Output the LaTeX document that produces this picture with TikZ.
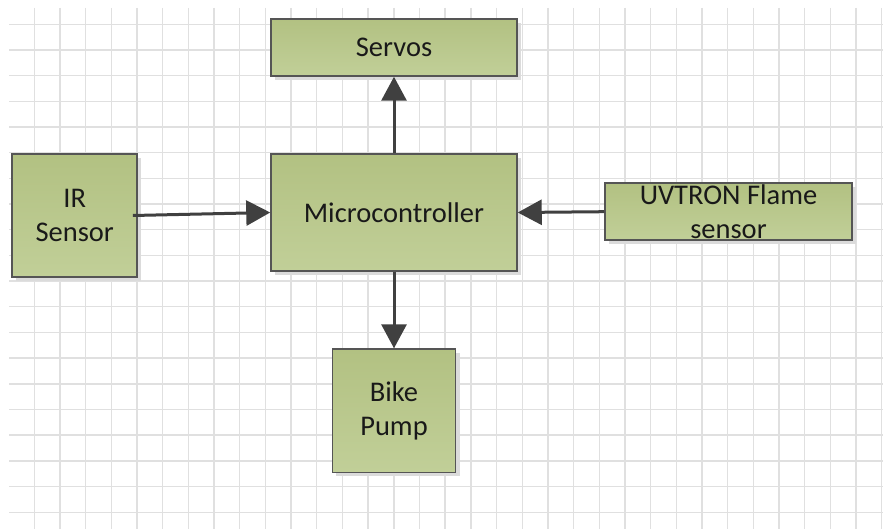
\documentclass[tikz,border=0pt]{standalone}
\usepackage{fontspec}
\setmainfont{Carlito}
\usetikzlibrary{arrows.meta,shadows}
\definecolor{gridc}{RGB}{224,224,224}
\definecolor{boxtop}{RGB}{178,193,130}
\definecolor{boxbot}{RGB}{193,207,152}
\definecolor{boxline}{RGB}{85,85,85}
\definecolor{arrowc}{RGB}{64,64,64}
\definecolor{txt}{RGB}{25,25,25}
\tikzset{
  blockbox/.style={draw=boxline, line width=1.5pt, top color=boxtop, bottom color=boxbot,
    inner sep=0pt, align=center, text=txt,
    font=\fontsize{28.5}{34}\selectfont,
    drop shadow={shadow xshift=4pt, shadow yshift=-4pt, fill=black!14, opacity=1}},
  flow/.style={draw=arrowc, line width=3pt, -{Triangle[length=24pt,width=25pt]}}
}
\begin{document}
\begin{tikzpicture}[x=1pt,y=-1pt]
\useasboundingbox (0,0) rectangle (883,529);
\fill[white] (0,0) rectangle (883,529);
% grid
\foreach \k in {0,...,33} {
  \draw[gridc, line width=1.4pt] ({34.3+25.68*\k},8) -- ({34.3+25.68*\k},529);
}
\foreach \k in {0,...,19} {
  \draw[gridc, line width=1.4pt] (9,{24.3+25.68*\k}) -- (883,{24.3+25.68*\k});
}
% blocks
\node[blockbox, minimum width=246pt, minimum height=57pt] (servos) at (394,47.5) {Servos};
\node[blockbox, minimum width=246pt, minimum height=117pt] (micro) at (394,212.5) {Microcontroller};
\node[blockbox, minimum width=247pt, minimum height=57pt] (uv) at (728.5,211.7) {UVTRON Flame\\sensor};
\node[blockbox, minimum width=125pt, minimum height=123pt] (ir) at (74.7,215.5) {IR\\Sensor};
\node[blockbox, minimum width=123.4pt, minimum height=123.3pt] (bike) at (394,410.7) {Bike\\Pump};
% connectors
\draw[flow] (micro.north) -- (servos.south);
\draw[flow] (micro.south) -- (bike.north);
\draw[flow] ([xshift=-5pt]ir.east) -- (micro.west);
\draw[flow] (uv.west) -- (micro.east);
\end{tikzpicture}
\end{document}
